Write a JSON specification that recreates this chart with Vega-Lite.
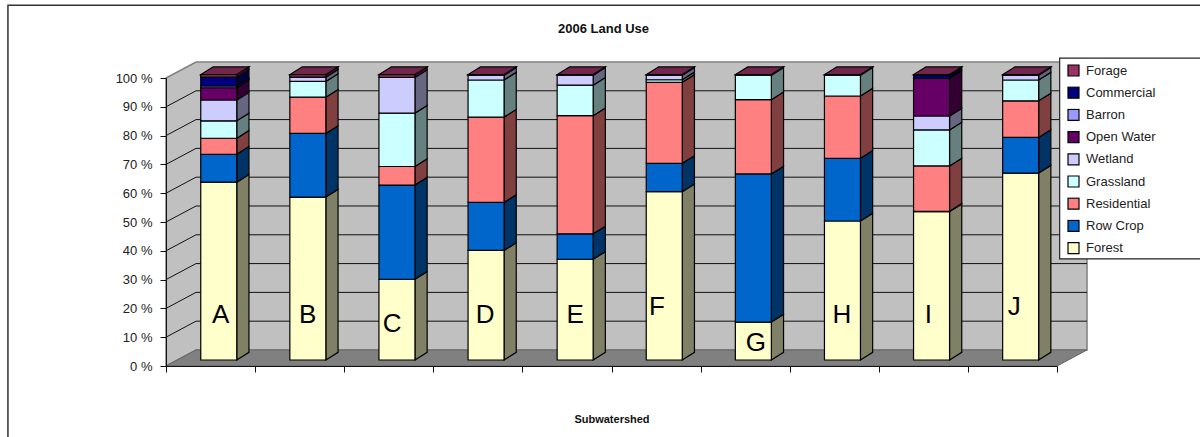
{
"$schema":"https://vega.github.io/schema/vega-lite/v6.json",
"width":891,"height":288,
"autosize":{"type":"none"},
"padding":{"left":166,"top":78,"right":143,"bottom":71},
"background":"white",
"title":{"text":"2006 Land Use","fontSize":13,"fontWeight":"bold","font":"Liberation Sans","color":"#111111","anchor":"middle","dx":-8,"offset":-32},
"datasets":{
"landuse":[
{"subwatershed":"A","landuse":"Forest","share":62.3},{"subwatershed":"A","landuse":"Row Crop","share":9.8},{"subwatershed":"A","landuse":"Residential","share":5.6},{"subwatershed":"A","landuse":"Grassland","share":6.1},{"subwatershed":"A","landuse":"Wetland","share":7.3},{"subwatershed":"A","landuse":"Open Water","share":4.3},{"subwatershed":"A","landuse":"Barron","share":0.6},{"subwatershed":"A","landuse":"Commercial","share":3.1},{"subwatershed":"A","landuse":"Forage","share":0.9},
{"subwatershed":"B","landuse":"Forest","share":57.1},{"subwatershed":"B","landuse":"Row Crop","share":22.3},{"subwatershed":"B","landuse":"Residential","share":12.7},{"subwatershed":"B","landuse":"Grassland","share":5.5},{"subwatershed":"B","landuse":"Wetland","share":1.5},{"subwatershed":"B","landuse":"Forage","share":0.9},
{"subwatershed":"C","landuse":"Forest","share":28.3},{"subwatershed":"C","landuse":"Row Crop","share":33},{"subwatershed":"C","landuse":"Residential","share":6.5},{"subwatershed":"C","landuse":"Grassland","share":18.7},{"subwatershed":"C","landuse":"Wetland","share":12.5},{"subwatershed":"C","landuse":"Forage","share":1},
{"subwatershed":"D","landuse":"Forest","share":38.4},{"subwatershed":"D","landuse":"Row Crop","share":16.8},{"subwatershed":"D","landuse":"Residential","share":29.9},{"subwatershed":"D","landuse":"Grassland","share":13},{"subwatershed":"D","landuse":"Wetland","share":1.7},{"subwatershed":"D","landuse":"Forage","share":0.2},
{"subwatershed":"E","landuse":"Forest","share":35.3},{"subwatershed":"E","landuse":"Row Crop","share":8.9},{"subwatershed":"E","landuse":"Residential","share":41.4},{"subwatershed":"E","landuse":"Grassland","share":10.7},{"subwatershed":"E","landuse":"Wetland","share":3.5},{"subwatershed":"E","landuse":"Forage","share":0.2},
{"subwatershed":"F","landuse":"Forest","share":59},{"subwatershed":"F","landuse":"Row Crop","share":9.9},{"subwatershed":"F","landuse":"Residential","share":28.4},{"subwatershed":"F","landuse":"Grassland","share":0.9},{"subwatershed":"F","landuse":"Wetland","share":1.6},{"subwatershed":"F","landuse":"Forage","share":0.2},
{"subwatershed":"G","landuse":"Forest","share":13.3},{"subwatershed":"G","landuse":"Row Crop","share":51.9},{"subwatershed":"G","landuse":"Residential","share":26},{"subwatershed":"G","landuse":"Grassland","share":8.6},{"subwatershed":"G","landuse":"Forage","share":0.2},
{"subwatershed":"H","landuse":"Forest","share":48.7},{"subwatershed":"H","landuse":"Row Crop","share":22},{"subwatershed":"H","landuse":"Residential","share":21.8},{"subwatershed":"H","landuse":"Grassland","share":7.3},{"subwatershed":"H","landuse":"Forage","share":0.2},
{"subwatershed":"I","landuse":"Forest","share":52},{"subwatershed":"I","landuse":"Row Crop","share":0.1},{"subwatershed":"I","landuse":"Residential","share":15.9},{"subwatershed":"I","landuse":"Grassland","share":12.6},{"subwatershed":"I","landuse":"Wetland","share":4.9},{"subwatershed":"I","landuse":"Open Water","share":13.2},{"subwatershed":"I","landuse":"Commercial","share":1.1},{"subwatershed":"I","landuse":"Forage","share":0.2},
{"subwatershed":"J","landuse":"Forest","share":65.5},{"subwatershed":"J","landuse":"Row Crop","share":12.5},{"subwatershed":"J","landuse":"Residential","share":12.8},{"subwatershed":"J","landuse":"Grassland","share":7.3},{"subwatershed":"J","landuse":"Wetland","share":1.7},{"subwatershed":"J","landuse":"Forage","share":0.2}
],
"letters":[
{"subwatershed":"A","sx":0.614,"sy":17.7},{"subwatershed":"B","sx":1.591,"sy":17.7},{"subwatershed":"C","sx":2.537,"sy":14.6},{"subwatershed":"D","sx":3.581,"sy":17.7},{"subwatershed":"E","sx":4.592,"sy":17.7},{"subwatershed":"F","sx":5.509,"sy":20.6},{"subwatershed":"G","sx":6.621,"sy":8.1},{"subwatershed":"H","sx":7.586,"sy":17.7},{"subwatershed":"I","sx":8.556,"sy":17.7},{"subwatershed":"J","sx":9.519,"sy":20.6}
],
"levels":[{"level":10},{"level":20},{"level":30},{"level":40},{"level":50},{"level":60},{"level":70},{"level":80},{"level":90}],
"wall":[{"wx":0,"wy":0,"wy2":100},{"wx":0.337,"wy":5.56,"wy2":105.56},{"wx":10.337,"wy":5.56,"wy2":105.56}],
"floor":[{"fy":0,"fx":0,"fx2":10},{"fy":5.56,"fx":0.337,"fx2":10.337}],
"frame":[{"bx":-1.774,"bx2":11.7,"by":125.3,"by2":-27.4}],
"legendbox":[{"bx":10.03,"bx2":11.7,"by":106.9,"by2":37.2}]
},
"layer":[
{"data":{"name":"frame"},"mark":{"type":"rect","fill":"white","stroke":"#333333","strokeWidth":1.5},
 "encoding":{"x":{"field":"bx","type":"quantitative","title":"Subwatershed","scale":{"domain":[0,10],"nice":false,"zero":false},
   "axis":{"tickCount":10,"labels":false,"grid":false,"tickSize":6,"tickColor":"#111111","domainColor":"#111111","titleFont":"Liberation Sans","titleFontSize":11,"titleFontWeight":"bold","titleColor":"#111111","titlePadding":41,"zindex":1}},
  "x2":{"field":"bx2"},
  "y":{"field":"by","type":"quantitative","title":null,"scale":{"domain":[0,100],"nice":false,"zero":false},
   "axis":{"tickCount":10,"grid":false,"tickSize":6,"tickColor":"#111111","domainColor":"#111111","labelFont":"Liberation Sans","labelFontSize":13,"labelColor":"#222222","labelPadding":8,"labelOverlap":false,"labelExpr":"datum.value + ' %'","zindex":1}},
  "y2":{"field":"by2"}}},
{"data":{"name":"wall"},"mark":{"type":"area","orient":"vertical","fill":"#c0c0c0","stroke":"#808080","strokeWidth":1.5},
 "encoding":{"x":{"field":"wx","type":"quantitative","title":"Subwatershed"},"y":{"field":"wy","type":"quantitative","title":null,"stack":null},"y2":{"field":"wy2"}}},
{"data":{"name":"floor"},"mark":{"type":"area","orient":"horizontal","fill":"#808080","stroke":"#666666","strokeWidth":1},
 "encoding":{"y":{"field":"fy","type":"quantitative","title":null},"x":{"field":"fx","type":"quantitative","title":"Subwatershed","stack":null},"x2":{"field":"fx2"}}},
{"data":{"name":"levels"},"transform":[{"calculate":"datum.level + 5.56","as":"back"},{"calculate":"0.337","as":"bx0"},{"calculate":"10.337","as":"bx1"}],
 "mark":{"type":"rule","color":"#111111","strokeWidth":1},
 "encoding":{"x":{"field":"bx0","type":"quantitative","title":"Subwatershed"},"x2":{"field":"bx1"},"y":{"field":"back","type":"quantitative","title":null}}},
{"data":{"name":"levels"},"transform":[{"calculate":"datum.level + 5.56","as":"back"},{"calculate":"0","as":"bx0"},{"calculate":"0.337","as":"bx1"}],
 "mark":{"type":"rule","color":"#111111","strokeWidth":1},
 "encoding":{"x":{"field":"bx0","type":"quantitative","title":"Subwatershed"},"x2":{"field":"bx1"},"y":{"field":"level","type":"quantitative","title":null},"y2":{"field":"back"}}},
{"data":{"name":"landuse"},
 "transform":[
  {"stack":"share","groupby":["subwatershed"],"as":["s0","s1"]},
  {"calculate":"indexof('ABCDEFGHIJ', datum.subwatershed) + 0.39","as":"x0"},
  {"calculate":"[datum.x0 + 0.404, datum.x0 + 0.541]","as":"sx"},
  {"calculate":"[2.08 + 0.991 * datum.s0, 4.75 + 0.991 * datum.s0]","as":"sy"},
  {"calculate":"[2.08 + 0.991 * datum.s1, 4.75 + 0.991 * datum.s1]","as":"sy2"},
  {"flatten":["sx","sy","sy2"]}
 ],
 "mark":{"type":"area","orient":"vertical","stroke":"black","strokeWidth":1.2},
 "encoding":{"x":{"field":"sx","type":"quantitative","title":"Subwatershed"},"y":{"field":"sy","type":"quantitative","title":null,"stack":null},"y2":{"field":"sy2"},
  "detail":{"field":"subwatershed"},
  "color":{"field":"landuse","type":"nominal","legend":null,
   "scale":{"domain":["Forage","Commercial","Barron","Open Water","Wetland","Grassland","Residential","Row Crop","Forest"],"range":["#4d1a33","#000040","#4d4d80","#330033","#666680","#668080","#804040","#003366","#808066"]}}}},
{"data":{"name":"landuse"},
 "transform":[
  {"filter":"datum.landuse === 'Forage'"},
  {"calculate":"indexof('ABCDEFGHIJ', datum.subwatershed) + 0.39","as":"x0"},
  {"calculate":"[datum.x0, datum.x0 + 0.137]","as":"tx"},
  {"calculate":"[datum.x0 + 0.404, datum.x0 + 0.541]","as":"tx2"},
  {"calculate":"[101.18, 103.85]","as":"ty"},
  {"flatten":["tx","tx2","ty"]}
 ],
 "mark":{"type":"area","orient":"horizontal","fill":"#73264d","stroke":"black","strokeWidth":1.2},
 "encoding":{"y":{"field":"ty","type":"quantitative","title":null},"x":{"field":"tx","type":"quantitative","title":"Subwatershed","stack":null},"x2":{"field":"tx2"},"detail":{"field":"subwatershed"}}},
{"data":{"name":"landuse"},
 "transform":[
  {"stack":"share","groupby":["subwatershed"],"as":["s0","s1"]},
  {"calculate":"indexof('ABCDEFGHIJ', datum.subwatershed) + 0.39","as":"x0"},
  {"calculate":"datum.x0 + 0.404","as":"x1"},
  {"calculate":"2.08 + 0.991 * datum.s0","as":"y0"},
  {"calculate":"2.08 + 0.991 * datum.s1","as":"y1"}
 ],
 "mark":{"type":"rect","stroke":"black","strokeWidth":1.2},
 "encoding":{"x":{"field":"x0","type":"quantitative","title":"Subwatershed"},"x2":{"field":"x1"},"y":{"field":"y0","type":"quantitative","title":null},"y2":{"field":"y1"},
  "color":{"field":"landuse","type":"nominal",
   "scale":{"domain":["Forage","Commercial","Barron","Open Water","Wetland","Grassland","Residential","Row Crop","Forest"],"range":["#993366","#000080","#9999ff","#660066","#ccccff","#ccffff","#ff8080","#0066cc","#ffffcc"]},
   "legend":{"orient":"none","legendX":901,"legendY":-14,"title":null,"padding":0,"symbolType":"square","symbolSize":121,"symbolStrokeColor":"black","symbolStrokeWidth":1.2,"symbolOpacity":1,"rowPadding":8.2,"labelOffset":6,"labelFont":"Liberation Sans","labelFontSize":13,"labelColor":"#222222","labelLimit":125,"clipHeight":13}}}},
{"data":{"name":"letters"},"mark":{"type":"text","font":"Liberation Sans","fontSize":26,"baseline":"middle","align":"center","color":"black"},
 "encoding":{"x":{"field":"sx","type":"quantitative","title":"Subwatershed"},"y":{"field":"sy","type":"quantitative","title":null},"text":{"field":"subwatershed"}}},
{"data":{"name":"legendbox"},"mark":{"type":"rect","fill":"white","stroke":"#222222","strokeWidth":1.2},
 "encoding":{"x":{"field":"bx","type":"quantitative","title":"Subwatershed"},"x2":{"field":"bx2"},"y":{"field":"by","type":"quantitative","title":null},"y2":{"field":"by2"}}}
],
"resolve":{"scale":{"color":"independent"}},
"config":{"view":{"stroke":null}}
}
